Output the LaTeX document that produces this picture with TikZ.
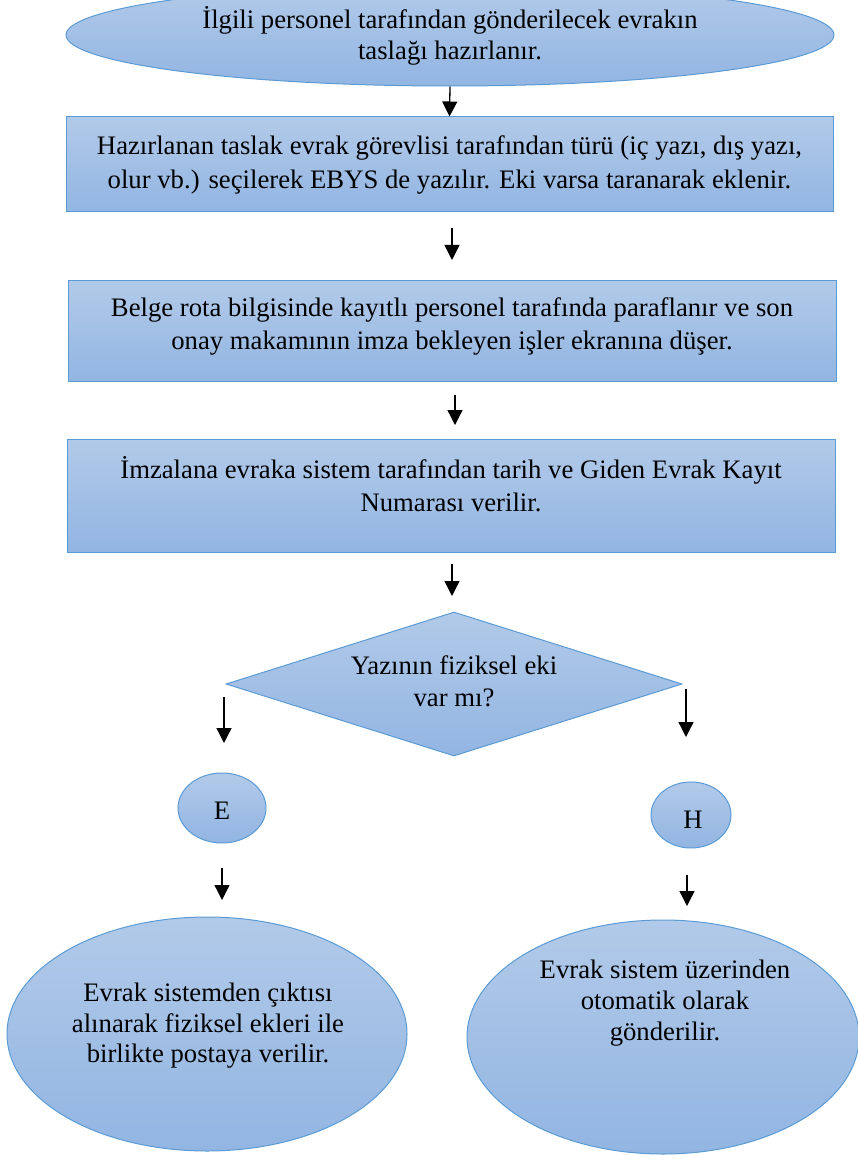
\documentclass[tikz,border=0pt]{standalone}
\usepackage{fontspec}
\setmainfont{Liberation Serif}
\usetikzlibrary{shapes.geometric, arrows.meta}
\definecolor{fillTop}{RGB}{178,202,233}
\definecolor{fillBot}{RGB}{146,181,226}
\definecolor{edge}{RGB}{91,155,213}
\tikzset{
    shp/.style={draw=edge, line width=1pt, top color=fillTop, bottom color=fillBot, inner sep=0pt},
    box/.style={shp, rectangle},
    oval/.style={shp, ellipse},
    txt/.style={align=center, inner sep=0pt, font=\fontsize{26.7}{32}\selectfont},
    arr/.style={line width=1.3pt, -{Triangle[width=15pt, length=15pt]}}
}

\begin{document}
\begin{tikzpicture}[x=1pt, y=-1pt]
            \useasboundingbox (0,0) rectangle (858,1155);
            \clip (0,0) rectangle (858,1155);
            % shapes
            \node[oval, minimum width=768pt, minimum height=102pt] (E0) at (450,35) {};
            \node[box, minimum width=767pt, minimum height=95pt] (B1) at (449.5,164.5) {};
            \node[box, minimum width=768pt, minimum height=100pt] (B2) at (452,331) {};
            \node[box, minimum width=768pt, minimum height=113pt] (B3) at (451,495.5) {};
            \node[shp, diamond, minimum width=456pt, minimum height=144pt] (D) at (454,684) {};
            \node[oval, minimum width=88pt, minimum height=70pt] (E) at (222,808) {};
            \node[oval, minimum width=80pt, minimum height=66pt] (H) at (691,815) {};
            \node[oval, minimum width=400pt, minimum height=234pt] (EL) at (207,1034) {};
            \node[oval, minimum width=392pt, minimum height=234pt] (ER) at (663,1037) {};
            % texts
            \node[txt, font=\fontsize{26.7}{31}\selectfont] (T0) at (450,35.5) {İlgili personel tarafından gönderilecek evrakın\\taslağı hazırlanır.};
            \node[txt, font=\fontsize{26.7}{34}\selectfont] (T1) at (449.5,165) {Hazırlanan taslak evrak görevlisi tarafından türü (iç yazı, dış yazı,\\olur vb.) seçilerek EBYS de yazılır. Eki varsa taranarak eklenir.};
            \node[txt, font=\fontsize{26.7}{33}\selectfont] (T2) at (452,326.5) {Belge rota bilgisinde kayıtlı personel tarafında paraflanır ve son\\onay makamının imza bekleyen işler ekranına düşer.};
            \node[txt, font=\fontsize{26.7}{33}\selectfont] (T3) at (451,484) {İmzalana evraka sistem tarafından tarih ve Giden Evrak Kayıt\\Numarası verilir.};
            \node[txt] (TD) at (454,681.5) {Yazının fiziksel eki\\var mı?};
            \node[txt] (TE) at (222,811) {E};
            \node[txt] (TH) at (693,820) {H};
            \node[txt, font=\fontsize{26.7}{30.5}\selectfont] (TL) at (208,1026) {Evrak sistemden çıktısı\\alınarak fiziksel ekleri ile\\birlikte postaya verilir.};
            \node[txt, font=\fontsize{26.7}{31}\selectfont] (TR) at (665,1003.5) {Evrak sistem üzerinden\\otomatik olarak\\gönderilir.};
            % arrows
            \coordinate (a2) at (452,228); \coordinate (b2) at (452,260);
            \coordinate (a3) at (455,395); \coordinate (b3) at (455,425);
            \coordinate (a4) at (452,564); \coordinate (b4) at (452,596);
            \coordinate (aL) at (224,697); \coordinate (bL) at (224,743);
            \coordinate (aR) at (686,689); \coordinate (bR) at (686,737);
            \coordinate (cL) at (222,868); \coordinate (dL) at (222,900);
            \coordinate (cR) at (687,875); \coordinate (dR) at (687,906);
            \draw[arr] (E0.south) -- (B1.north);
            \draw[arr] (a2) -- (b2);
            \draw[arr] (a3) -- (b3);
            \draw[arr] (a4) -- (b4);
            \draw[arr] (aL) -- (bL);
            \draw[arr] (aR) -- (bR);
            \draw[arr] (cL) -- (dL);
            \draw[arr] (cR) -- (dR);
        \end{tikzpicture}
\end{document}
